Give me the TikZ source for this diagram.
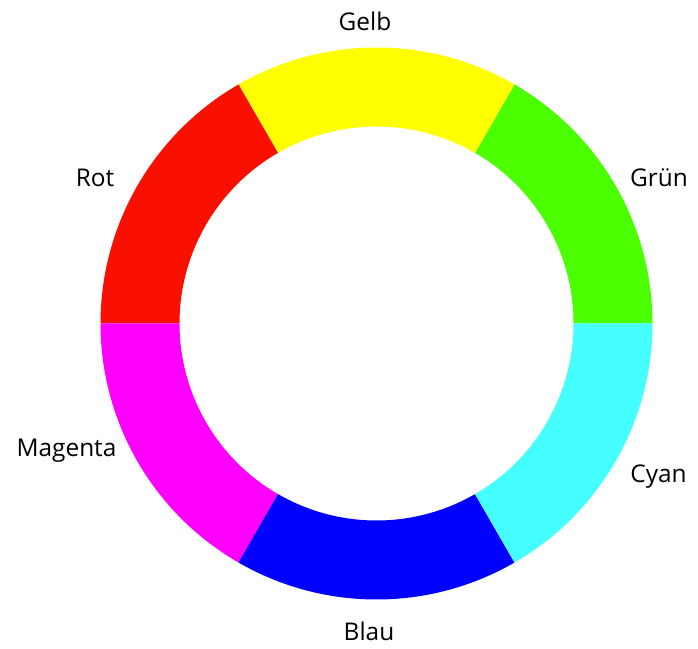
\documentclass[tikz,border=0pt]{standalone}
\usepackage{fontspec}
\setmainfont{Open Sans}
\definecolor{cRot}{HTML}{FA1000}
\definecolor{cGelb}{HTML}{FFFF00}
\definecolor{cGruen}{HTML}{4CFF00}
\definecolor{cCyan}{HTML}{45FFFF}
\definecolor{cBlau}{HTML}{0000FF}
\definecolor{cMagenta}{HTML}{FF00FF}
\tikzset{
  farbname/.style={inner sep=0pt, anchor=base, font=\fontsize{24.5}{24.5}\selectfont},
}
\begin{document}
\begin{tikzpicture}[x=1bp,y=1bp]
    \useasboundingbox (0,0) rectangle (698,649);
    \coordinate (mitte) at (376.5,325.5);
    \foreach \a/\farbe in {0/cGruen,60/cGelb,120/cRot,180/cMagenta,240/cBlau,300/cCyan}
      \fill[\farbe] ([shift={(\a:276)}]mitte) arc[start angle=\a, end angle=\a+60, radius=276]
        -- ([shift={(\a+60:197)}]mitte) arc[start angle=\a+60, end angle=\a, radius=197] -- cycle;
    \node[farbname] (gelb) at (365,618) {Gelb};
    \node[farbname] (gruen) at (659,462) {Grün};
    \node[farbname] (cyan) at (658.5,166) {Cyan};
    \node[farbname] (blau) at (369,8) {Blau};
    \node[farbname] (magenta) at (66.5,192) {Magenta};
    \node[farbname] (rot) at (95,462) {Rot};
  \end{tikzpicture}
\end{document}
